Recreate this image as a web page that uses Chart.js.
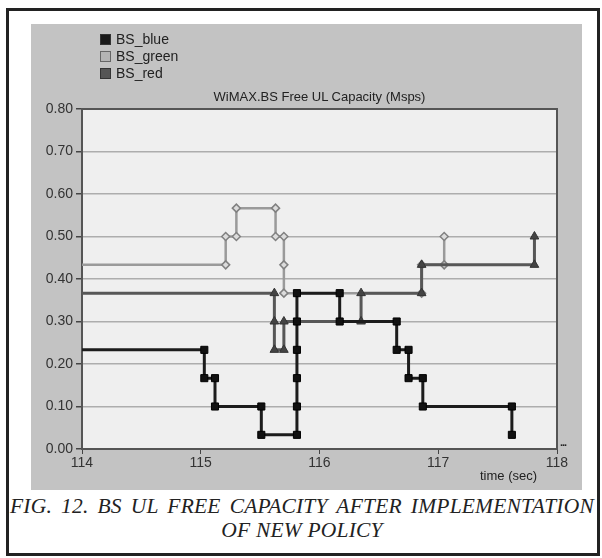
<!DOCTYPE html>
<html>
<head>
<meta charset="utf-8">
<script src="https://cdn.jsdelivr.net/npm/chart.js@4.4.0/dist/chart.umd.min.js"></script>
<style>
  body { margin: 0; background: #fff; width: 602px; height: 558px; position: relative; overflow: hidden; }
  .frame { position: absolute; left: 6px; top: 8px; width: 588px; height: 542px; border: 3px solid #222; }
  .panel { position: absolute; left: 31px; top: 24px; width: 551px; height: 466px; }
  .txt { position: absolute; font-family: "Liberation Sans", Arial, sans-serif; color: #222; white-space: nowrap; }
  .legend { left: 100px; top: 31px; font-size: 14px; line-height: 17px; }
  .legend div { display: flex; align-items: center; }
  .legend span.box { display: inline-block; width: 9px; height: 9px; margin-right: 5px; border: 1px solid #333; }
  .title { left: 82px; width: 475px; text-align: center; top: 89px; font-size: 13px; }
  .xtitle { left: 480px; top: 468px; font-size: 13px; }
  .dots { left: 560px; top: 436px; font-size: 11px; font-weight: bold; letter-spacing: -1px; }
  .caption { position: absolute; left: 10px; width: 584px; font-family: "Liberation Serif", "Times New Roman", serif; font-style: italic; font-size: 21.5px; letter-spacing: 0.2px; color: #222; }
  .cap1 { top: 494px; text-align: justify; text-align-last: justify; }
  .cap2 { top: 518px; text-align: center; }
</style>
</head>
<body>
<div class="frame"></div>
<div class="panel"><canvas id="chart" width="551" height="466"></canvas></div>
<div class="txt legend">
  <div><span class="box" style="background:#1a1a1a"></span>BS_blue</div>
  <div><span class="box" style="background:#b4b4b4;border-color:#666"></span>BS_green</div>
  <div><span class="box" style="background:#555"></span>BS_red</div>
</div>
<div class="txt title">WiMAX.BS Free UL Capacity (Msps)</div>
<div class="txt xtitle">time (sec)</div>
<div class="txt dots">...</div>
<div class="caption cap1">FIG. 12. BS UL FREE CAPACITY AFTER IMPLEMENTATION</div>
<div class="caption cap2">OF NEW POLICY</div>
<script>
// step points (time in sec, capacity in Msps)
const blueTime = [114, 115.03, 115.03, 115.12, 115.12, 115.51, 115.51, 115.81, 115.81, 115.81, 115.81, 115.81, 115.81, 116.17, 116.17, 116.65, 116.65, 116.75, 116.75, 116.87, 116.87, 117.62, 117.62];
const blueValue = [0.2333, 0.2333, 0.1667, 0.1667, 0.1, 0.1, 0.0333, 0.0333, 0.1, 0.1667, 0.2333, 0.3, 0.3667, 0.3667, 0.3, 0.3, 0.2333, 0.2333, 0.1667, 0.1667, 0.1, 0.1, 0.0333];

const greenTime = [114, 115.21, 115.21, 115.30, 115.30, 115.63, 115.63, 115.70, 115.70, 115.70, 116.86, 116.86, 117.05, 117.05];
const greenValue = [0.4333, 0.4333, 0.5, 0.5, 0.5667, 0.5667, 0.5, 0.5, 0.4333, 0.3667, 0.3667, 0.4333, 0.4333, 0.5];

const redTime = [114, 115.62, 115.62, 115.62, 115.70, 115.70, 116.35, 116.35, 116.86, 116.86, 117.81, 117.81];
const redValue = [0.3667, 0.3667, 0.3, 0.2333, 0.2333, 0.3, 0.3, 0.3667, 0.3667, 0.4333, 0.4333, 0.5];

const xTicks = [114, 115, 116, 117, 118];

const toPoints = (xs, ys) => xs.map((x, i) => ({ x, y: ys[i] }));
// no marker on the first point (it sits on the axis)
const radii = (xs, r) => xs.map((x, i) => (i === 0 ? 0 : r));

const bgPlugin = {
  id: 'bg',
  beforeDraw(chart) {
    const { ctx, chartArea: a } = chart;
    ctx.save();
    ctx.fillStyle = '#c3c3c3';
    ctx.fillRect(0, 0, chart.width, chart.height);
    ctx.fillStyle = '#efefef';
    ctx.fillRect(a.left, a.top, a.right - a.left, a.bottom - a.top);
    ctx.restore();
  },
  beforeDatasetsDraw(chart) {
    const { ctx, chartArea: a } = chart;
    ctx.save();
    ctx.strokeStyle = '#555';
    ctx.lineWidth = 2;
    ctx.strokeRect(a.left, a.top, a.right - a.left, a.bottom - a.top);
    ctx.restore();
  }
};

const ctx = document.getElementById('chart').getContext('2d');
new Chart(ctx, {
  type: 'scatter',
  data: {
    datasets: [
      {
        label: 'BS_blue',
        data: toPoints(blueTime, blueValue),
        showLine: true,
        borderColor: '#1c1c1c',
        borderWidth: 3,
        pointStyle: 'rect',
        pointRadius: radii(blueTime, 5),
        pointBackgroundColor: '#111',
        pointBorderColor: '#000',
        pointBorderWidth: 1,
      },
      {
        label: 'BS_red',
        data: toPoints(redTime, redValue),
        showLine: true,
        borderColor: '#575757',
        borderWidth: 3,
        pointStyle: 'triangle',
        pointRadius: radii(redTime, 5),
        pointBackgroundColor: '#444',
        pointBorderColor: '#333',
        pointBorderWidth: 1,
      },
      {
        label: 'BS_green',
        data: toPoints(greenTime, greenValue),
        showLine: true,
        borderColor: '#9a9a9a',
        borderWidth: 2.5,
        pointStyle: 'rectRot',
        pointRadius: radii(greenTime, 4),
        pointBackgroundColor: '#dcdcdc',
        pointBorderColor: '#808080',
        pointBorderWidth: 1.5,
      },
    ],
  },
  options: {
    responsive: false,
    animation: false,
    devicePixelRatio: 1,
    layout: { padding: { left: 0, top: 85, right: 25, bottom: 0 } },
    plugins: { legend: { display: false }, tooltip: { enabled: false } },
    scales: {
      x: {
        type: 'linear',
        min: 114,
        max: 118,
        afterBuildTicks: (s) => { s.ticks = xTicks.map((v) => ({ value: v })); },
        afterFit: (s) => { s.height = 41; },
        grid: { drawOnChartArea: false, tickColor: '#444', tickLength: 5 },
        border: { color: '#333', width: 2 },
        ticks: { color: '#333', font: { family: 'Liberation Sans', size: 14 }, padding: 1, maxRotation: 0 },
      },
      y: {
        min: 0,
        max: 0.8,
        afterFit: (s) => { s.width = 51; },
        grid: { color: '#adadad', lineWidth: 1.5, tickColor: '#444', tickLength: 6 },
        border: { color: '#333', width: 2 },
        ticks: {
          stepSize: 0.1,
          color: '#333',
          padding: 3,
          font: { family: 'Liberation Sans', size: 14 },
          callback: (v) => v.toFixed(2),
        },
      },
    },
  },
  plugins: [bgPlugin],
});
</script>
</body>
</html>
